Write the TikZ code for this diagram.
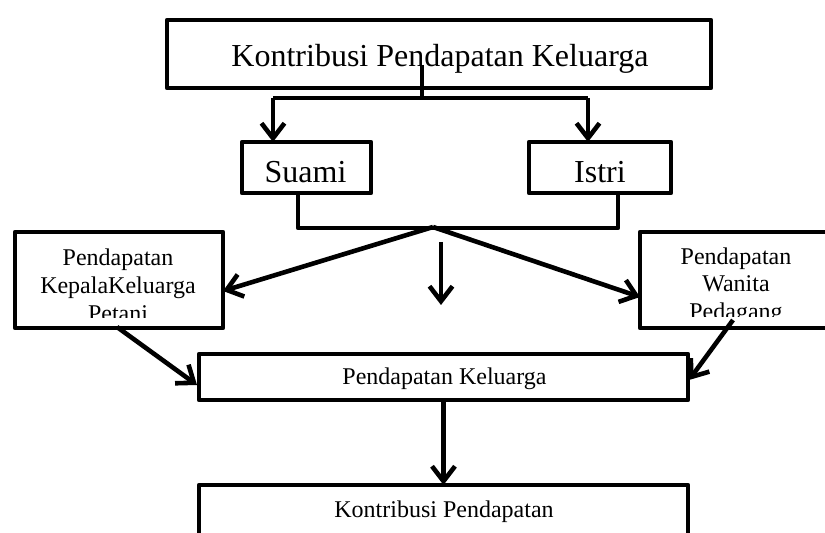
\documentclass[tikz,border=0pt]{standalone}
\usepackage{fontspec}
\setmainfont{Liberation Serif}
\usetikzlibrary{arrows.meta,calc}
\begin{document}
\begin{tikzpicture}[x=0.5pt,y=-0.5pt,
  box/.style={draw,line width=2.2pt,line join=round,rectangle,inner sep=0pt,outer sep=0pt},
  big/.style={font=\fontsize{16}{19}\selectfont,inner sep=0pt,anchor=base},
  small/.style={font=\fontsize{12}{14}\selectfont,inner sep=0pt,anchor=base},
  conn/.style={line width=2.3pt,line join=round},
  arr/.style={conn,-{Straight Barb[length=7.5pt,width=11.5pt]}}]
\useasboundingbox (0,0) rectangle (825,533);
\clip (0,0) rectangle (825,533);

% boxes
\node[box,minimum width=272pt,minimum height=34pt] (title) at (439,54) {};
\node[box,minimum width=64.5pt,minimum height=25.5pt] (suami) at (306.5,167.5) {};
\node[box,minimum width=71pt,minimum height=25.5pt] (istri) at (600,167.5) {};
\node[box,minimum width=104pt,minimum height=48pt] (lbox) at (119,280) {};
\node[box,minimum width=96pt,minimum height=48pt] (rbox) at (736,280) {};
\node[box,minimum width=244.5pt,minimum height=23pt] (mid) at (443.5,377) {};
\node[box,minimum width=244.5pt,minimum height=37.5pt] (bot) at (443.5,522.5) {};

% texts
\node[big] (ttitle) at (440,67) {Kontribusi Pendapatan Keluarga};
\node[big] (tsuami) at (305.5,183) {Suami};
\node[big] (tistri) at (600,183) {Istri};
\begin{scope}
\clip (15,232) rectangle (223,318);
\node[small] (tl1) at (118,266) {Pendapatan};
\node[small] (tl2) at (118,294) {KepalaKeluarga};
\node[small] (tl3) at (118,322) {Petani};
\end{scope}
\begin{scope}
\clip (640,232) rectangle (832,317);
\node[small] (tr1) at (736,265) {Pendapatan};
\node[small] (tr2) at (736,292) {Wanita};
\node[small] (tr3) at (736,320) {Pedagang};
\end{scope}
\node[small] (tmid) at (444.5,385) {Pendapatan Keluarga};
\node[small] (tbot) at (444,518) {Kontribusi Pendapatan};

% connectors
\coordinate (s0) at (422,65);
\coordinate (j1) at (422,98);
\coordinate (sL) at (273,98);
\coordinate (sR) at (588,98);
\draw[conn] (s0) -- (j1);
\draw[conn] (sL) -- (sR);
\draw[arr] (sL) -- (sL |- suami.north);
\draw[arr] (sR) -- (sR |- istri.north);

\coordinate (bL) at (298,228);
\coordinate (bR) at (618,228);
\draw[conn] (suami.south -| bL) -- (bL) -- (bR) -- (istri.south -| bR);

\coordinate (m) at (433,227);
\draw[arr] (m) -- ($(lbox.east)+(0,11)$);
\draw[arr] (m) -- ($(rbox.west)+(0,17)$);
\coordinate (d0) at (441,242);
\coordinate (d1) at (441,305);
\draw[arr] (d0) -- (d1);

\draw[arr] ($(lbox.south)+(-2,-1)$) -- ($(mid.west)+(-2,8)$);
\draw[arr] ($(rbox.south)+(-3,-8)$) -- ($(mid.east)+(1,3)$);
\draw[arr] (mid.south) -- (bot.north);
\end{tikzpicture}
\end{document}
